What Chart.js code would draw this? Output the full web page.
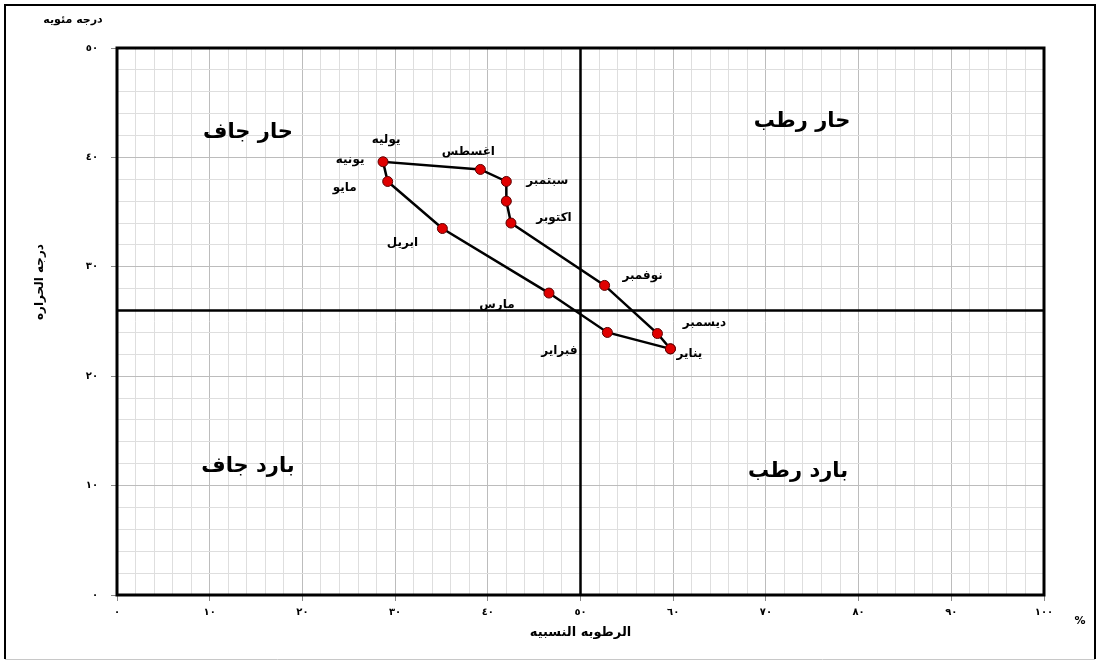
<!DOCTYPE html>
<html>
<head>
<meta charset="utf-8">
<script src="https://cdn.jsdelivr.net/npm/chart.js@4.4.1/dist/chart.umd.min.js"></script>
<style>
  html, body { margin: 0; padding: 0; background: #fff; }
  canvas { display: block; }
</style>
</head>
<body>
<canvas id="climo" width="1100" height="662"></canvas>
<script>
// climograph points, in path order (relative humidity %, temperature °C)
const humidity    = [59.7, 52.9, 46.6, 35.1, 29.2, 28.7, 39.2, 42.0, 42.0, 42.5, 52.6, 58.3];
const temperature = [22.5, 24.0, 27.6, 33.5, 37.8, 39.6, 38.9, 37.8, 36.0, 34.0, 28.3, 23.9];

// month labels and the point each one sits next to
const monthLabels = ['يناير', 'فبراير', 'مارس', 'ابريل', 'مايو', 'يونيه', 'يوليه', 'اغسطس', 'سبتمبر', 'اكتوبر', 'نوفمبر', 'ديسمبر'];
const labelAnchor = [0, 1, 2, 3, 4, 5, 5, 6, 7, 9, 10, 11];
const labelShift  = [[19, 5], [-48, 18], [-52, 12], [-40, 14], [-43, 6], [-33, -2], [3, -22], [-12, -18], [41, -1], [43, -5], [38, -10], [47, -11]];

const xTickLabels = ['٠', '١٠', '٢٠', '٣٠', '٤٠', '٥٠', '٦٠', '٧٠', '٨٠', '٩٠', '١٠٠'];
const yTickLabels = ['٠', '١٠', '٢٠', '٣٠', '٤٠', '٥٠'];

// dividing lines between the four quadrants
const humidityMid = 50;
const tempMid = 26;

const quadrants = [
    { text: 'حار جاف', x: 248, y: 133 },
    { text: 'حار رطب', x: 802, y: 122 },
    { text: 'بارد جاف', x: 248, y: 467 },
    { text: 'بارد رطب', x: 798, y: 472 }
];

const points = humidity.map((h, i) => ({ x: h, y: temperature[i] }));
points.push(points[0]); // close the loop

const arabicFont = '"DejaVu Sans", "Liberation Sans", sans-serif';

const decor = {
    id: 'decor',
    beforeDatasetsDraw(chart) {
        const { ctx, chartArea: a, scales: { x, y } } = chart;
        ctx.save();

        // month labels (drawn under the dividing lines like the original)
        ctx.fillStyle = '#000';
        ctx.font = 'bold 12px ' + arabicFont;
        ctx.textAlign = 'center';
        ctx.textBaseline = 'middle';
        monthLabels.forEach((t, i) => {
            const p = points[labelAnchor[i]];
            ctx.fillText(t, x.getPixelForValue(p.x) + labelShift[i][0], y.getPixelForValue(p.y) + labelShift[i][1]);
        });

        // quadrant names
        ctx.font = 'bold 21px ' + arabicFont;
        quadrants.forEach(q => ctx.fillText(q.text, q.x, q.y));

        // dividing lines
        ctx.strokeStyle = '#000';
        ctx.lineWidth = 2.5;
        const mx = x.getPixelForValue(humidityMid);
        const my = y.getPixelForValue(tempMid);
        ctx.beginPath();
        ctx.moveTo(mx, a.top);
        ctx.lineTo(mx, a.bottom);
        ctx.moveTo(a.left, my);
        ctx.lineTo(a.right, my);
        ctx.stroke();

        // plot frame
        ctx.lineWidth = 3;
        ctx.strokeRect(a.left, a.top, a.right - a.left, a.bottom - a.top);
        ctx.restore();
    },
    afterDraw(chart) {
        const { ctx, chartArea: a } = chart;
        ctx.save();
        ctx.fillStyle = '#000';
        ctx.textBaseline = 'middle';
        ctx.textAlign = 'center';
        ctx.font = 'bold 11px ' + arabicFont;
        ctx.fillText('درجه مئويه', 73, 20);
        ctx.fillText('%', 1080, 621);
        ctx.font = 'bold 13px ' + arabicFont;
        ctx.fillText('الرطوبه النسبيه', (a.left + a.right) / 2, 633);
        ctx.translate(40, 282);
        ctx.rotate(-Math.PI / 2);
        ctx.font = 'bold 12px ' + arabicFont;
        ctx.fillText('درجه الحراره', 0, 0);
        ctx.restore();

        // outer frame
        ctx.save();
        ctx.strokeStyle = '#000';
        ctx.lineWidth = 2;
        ctx.beginPath();
        ctx.moveTo(5, 659);
        ctx.lineTo(5, 5);
        ctx.lineTo(1095, 5);
        ctx.lineTo(1095, 659);
        ctx.stroke();
        ctx.strokeStyle = '#c8c8c8';
        ctx.lineWidth = 1;
        ctx.beginPath();
        ctx.moveTo(5, 659.5);
        ctx.lineTo(1095, 659.5);
        ctx.stroke();
        ctx.restore();
    }
};

const gridColor = c => (c.tick && c.tick.value % 10 === 0) ? '#bcbcbc' : '#dedede';
const tickColor = c => (c.tick && c.tick.value % 10 === 0) ? '#888' : 'rgba(0,0,0,0)';

new Chart(document.getElementById('climo'), {
    type: 'scatter',
    data: {
        datasets: [{
            data: points,
            showLine: true,
            borderColor: '#000',
            borderWidth: 2.5,
            pointRadius: 5,
            pointBackgroundColor: '#e00000',
            pointBorderColor: '#5a0000',
            pointBorderWidth: 1,
            tension: 0
        }]
    },
    options: {
        responsive: false,
        animation: false,
        layout: { padding: { top: 48, right: 56, left: 0, bottom: 0 } },
        plugins: { legend: { display: false }, tooltip: { enabled: false } },
        scales: {
            x: {
                type: 'linear',
                min: 0,
                max: 100,
                afterFit: s => { s.height = 67; },
                border: { display: false },
                grid: { color: gridColor, tickColor: tickColor, tickLength: 6, lineWidth: 1 },
                ticks: {
                    stepSize: 2,
                    autoSkip: false,
                    maxRotation: 0,
                    padding: 5,
                    color: '#000',
                    font: { size: 10, weight: 'bold', family: arabicFont },
                    callback: v => v % 10 === 0 ? xTickLabels[v / 10] : ''
                }
            },
            y: {
                type: 'linear',
                min: 0,
                max: 50,
                afterFit: s => { s.width = 117; },
                border: { display: false },
                grid: { color: gridColor, tickColor: tickColor, tickLength: 6, lineWidth: 1 },
                ticks: {
                    stepSize: 2,
                    autoSkip: false,
                    padding: 13,
                    color: '#000',
                    font: { size: 10, weight: 'bold', family: arabicFont },
                    callback: v => v % 10 === 0 ? yTickLabels[v / 10] : ''
                }
            }
        }
    },
    plugins: [decor]
});
</script>
</body>
</html>
